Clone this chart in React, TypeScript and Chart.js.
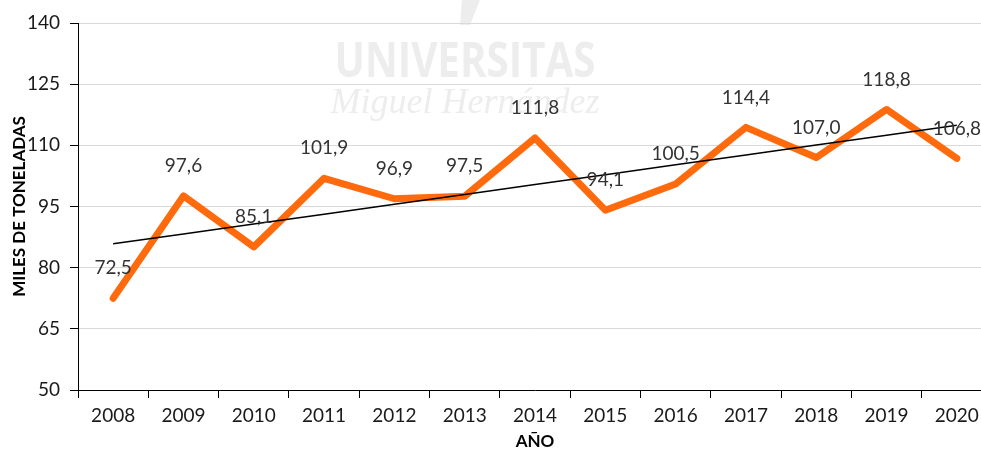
import React, { useEffect, useRef } from "react";
import { Chart, registerables } from "chart.js";

Chart.register(...registerables);

const years = ["2008", "2009", "2010", "2011", "2012", "2013", "2014", "2015", "2016", "2017", "2018", "2019", "2020"];
const tonnes = [72.5, 97.6, 85.1, 101.9, 96.9, 97.5, 111.8, 94.1, 100.5, 114.4, 107.0, 118.8, 106.8];
const yMin = 50;
const yMax = 140;
const yStep = 15;
const yTitle = "MILES DE TONELADAS";
const xTitle = "AÑO";
const watermarkTop = "UNIVERSITAS";
const watermarkBottom = "Miguel Hernández";

function linearTrend(values: number[]): number[] {
  const n = values.length;
  const mx = (n - 1) / 2;
  const my = values.reduce((a, b) => a + b, 0) / n;
  let sxy = 0;
  let sxx = 0;
  values.forEach((v, i) => {
    sxy += (i - mx) * (v - my);
    sxx += (i - mx) * (i - mx);
  });
  const slope = sxy / sxx;
  return values.map((_, i) => my + slope * (i - mx));
}

const FONT = "Lato, 'Open Sans', sans-serif";

const watermarkPlugin = {
  id: "watermark",
  beforeDraw(chart: any) {
    const ctx = chart.ctx;
    ctx.save();
    ctx.fillStyle = "#ededed";
    ctx.textAlign = "center";
    ctx.textBaseline = "alphabetic";
    ctx.save();
    ctx.translate(465, 77);
    ctx.scale(0.84, 1);
    ctx.font = "bold 48px 'Open Sans', sans-serif";
    ctx.fillText(watermarkTop, 0, 0);
    ctx.restore();
    ctx.font = "italic 36px 'Liberation Serif', serif";
    ctx.fillText(watermarkBottom, 465, 113);
    ctx.beginPath();
    ctx.moveTo(462, 0);
    ctx.lineTo(480, 0);
    ctx.lineTo(470, 25);
    ctx.lineTo(460, 25);
    ctx.closePath();
    ctx.fill();
    ctx.restore();
  },
};

const labelPlugin = {
  id: "valueLabels",
  afterDatasetsDraw(chart: any) {
    const ctx = chart.ctx;
    const meta = chart.getDatasetMeta(0);
    ctx.save();
    ctx.font = `19px ${FONT}`;
    ctx.fillStyle = "#333333";
    ctx.textAlign = "center";
    ctx.textBaseline = "middle";
    meta.data.forEach((pt: any, i: number) => {
      const txt = tonnes[i].toFixed(1).replace(".", ",");
      ctx.fillText(txt, pt.x, pt.y - 30);
    });
    ctx.restore();
  },
};

export default function App() {
  const ref = useRef<HTMLCanvasElement>(null);
  useEffect(() => {
    if (!ref.current) return;
    const trend = linearTrend(tonnes);
    const chart = new Chart(ref.current, {
      type: "line",
      data: {
        labels: years,
        datasets: [
          {
            data: tonnes,
            borderColor: "#ff6a0d",
            borderWidth: 7,
            pointRadius: 0,
            borderCapStyle: "round",
            borderJoinStyle: "round",
            tension: 0,
            order: 1,
          },
          {
            data: trend,
            borderColor: "#000000",
            borderWidth: 1.5,
            pointRadius: 0,
            tension: 0,
            order: 0,
          },
        ],
      },
      options: {
        animation: false,
        responsive: false,
        layout: { padding: { top: 23, right: 0, left: 0, bottom: 0 } },
        plugins: {
          legend: { display: false },
          tooltip: { enabled: false },
        },
        scales: {
          x: {
            type: "category",
            offset: true,
            grid: {
              offset: true,
              drawOnChartArea: false,
              drawTicks: true,
              tickLength: 8,
              tickColor: "#000000",
            },
            border: { color: "#000000", width: 1 },
            ticks: {
              color: "#1a1a1a",
              font: { family: FONT, size: 19 },
              padding: 6,
              maxRotation: 0,
            },
            title: {
              display: true,
              text: xTitle,
              color: "#000000",
              font: { family: FONT, size: 17, weight: "bold" },
              padding: { top: 0, bottom: 0 },
            },
            afterFit(scale: any) {
              scale.height = 62;
            },
          },
          y: {
            min: yMin,
            max: yMax,
            ticks: {
              stepSize: yStep,
              color: "#1a1a1a",
              font: { family: FONT, size: 19 },
              padding: 10,
            },
            grid: {
              color: "#d9d9d9",
              lineWidth: 1,
              tickLength: 8,
              tickColor: "#000000",
            },
            border: { color: "#000000", width: 1 },
            title: {
              display: true,
              text: yTitle,
              color: "#000000",
              font: { family: FONT, size: 17, weight: "bold" },
              padding: { top: 9, bottom: 0 },
            },
            afterFit(scale: any) {
              scale.width = 78;
            },
          },
        },
      },
      plugins: [watermarkPlugin, labelPlugin],
    } as any);
    return () => chart.destroy();
  }, []);

  return (
    <div style={{ position: "fixed", left: 0, top: 0, width: 981, height: 452, overflow: "hidden", background: "#ffffff" }}>
      <canvas ref={ref} width={992} height={452} style={{ width: 992, height: 452, display: "block" }} />
    </div>
  );
}
